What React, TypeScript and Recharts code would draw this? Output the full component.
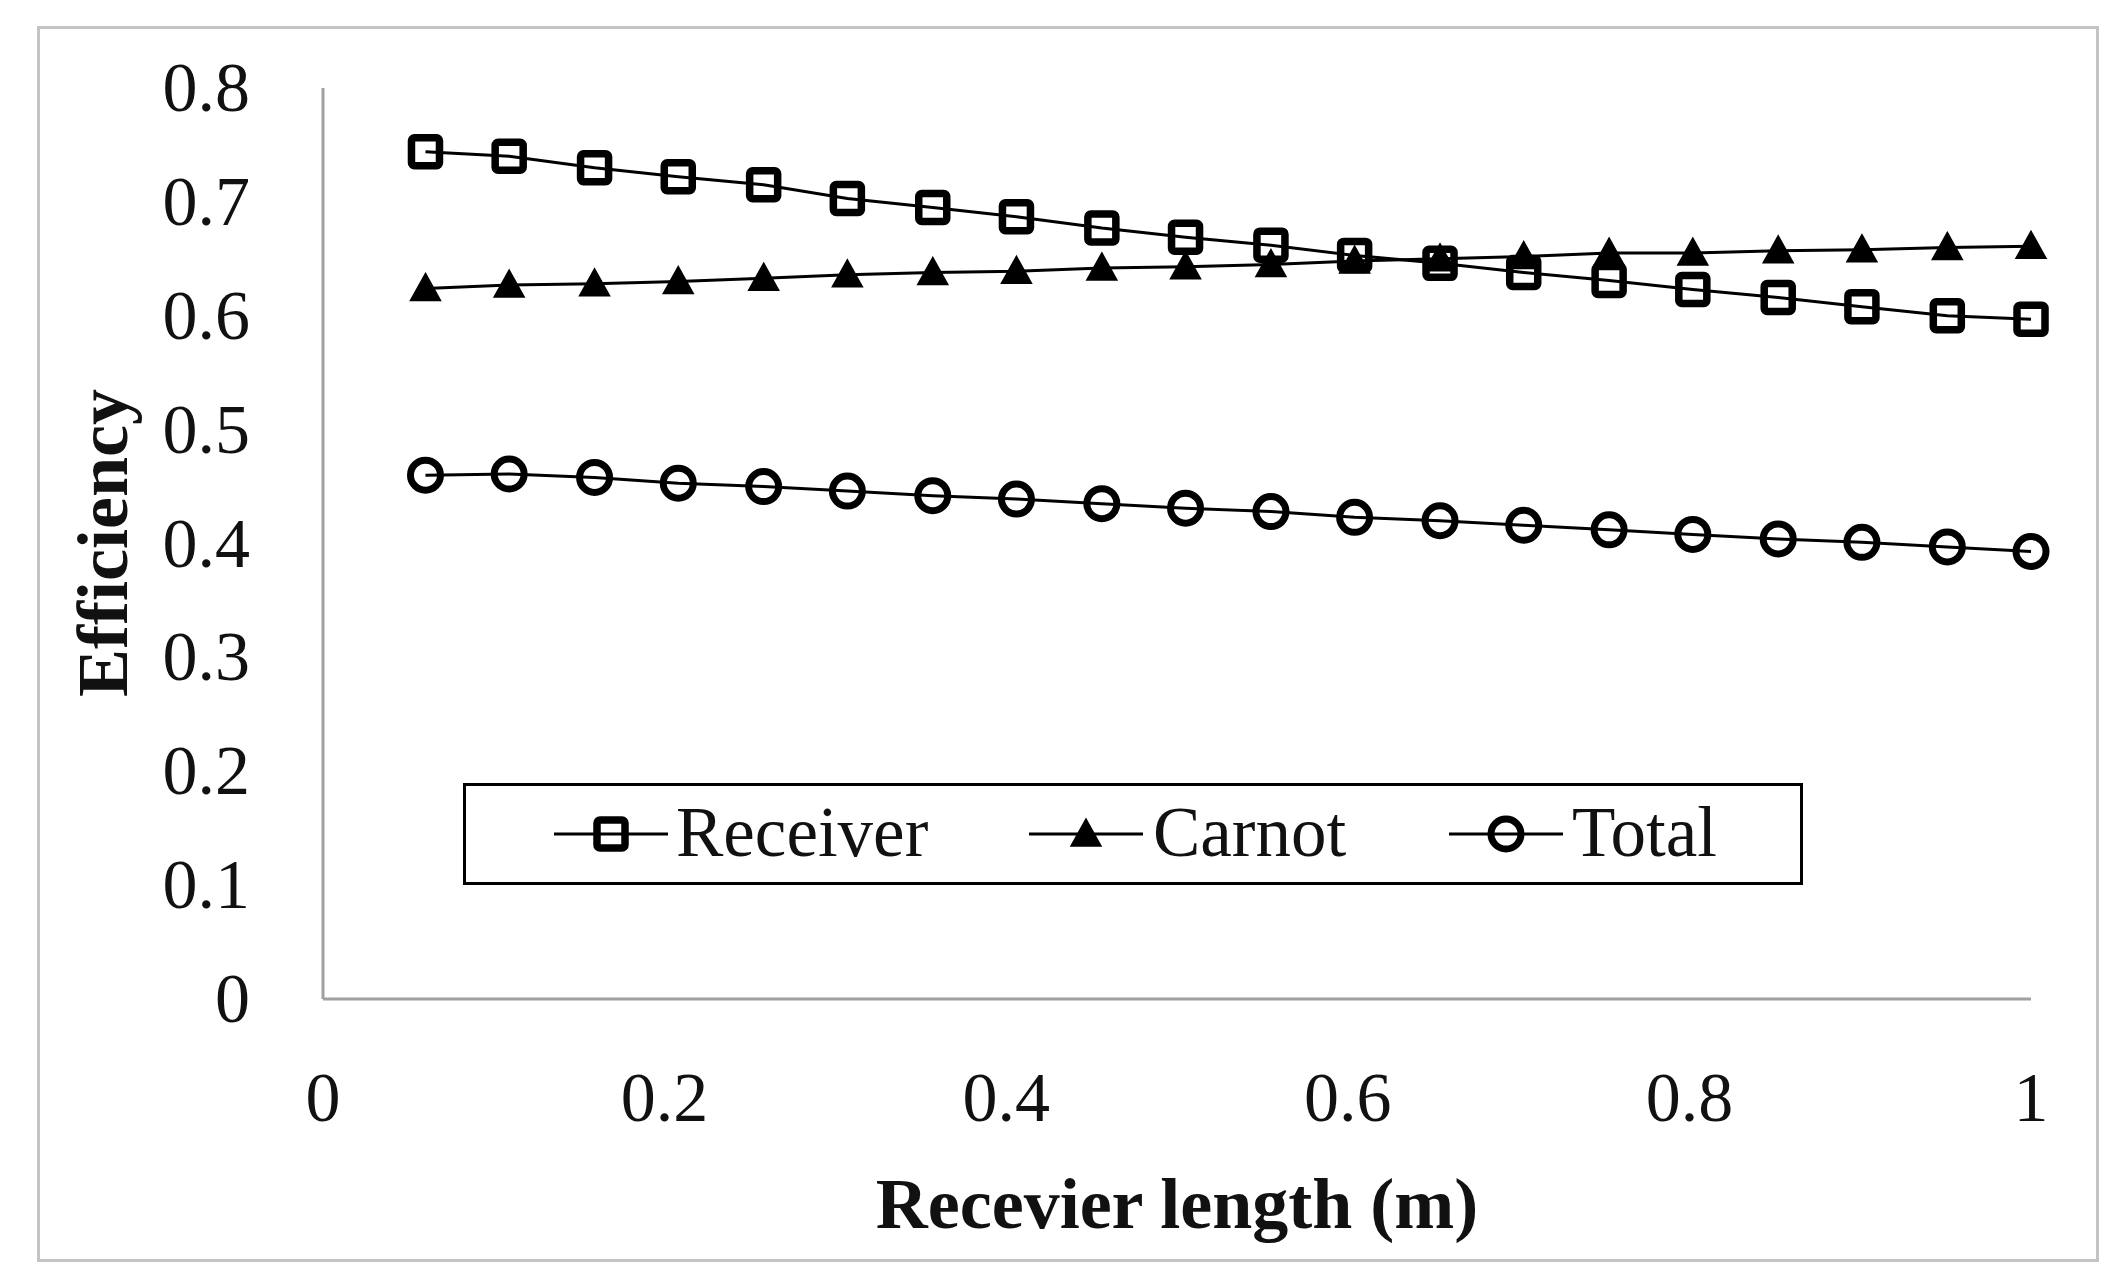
import React from 'react';
import { LineChart, Line, XAxis, YAxis, Legend } from 'recharts';

// ---- data ----
const lengths = [0.06, 0.109, 0.159, 0.208, 0.258, 0.307, 0.357, 0.406, 0.456, 0.505, 0.555, 0.604, 0.654, 0.703, 0.753, 0.802, 0.852, 0.901, 0.951, 1.0];
const receiver = [0.744, 0.74, 0.73, 0.722, 0.715, 0.703, 0.695, 0.687, 0.677, 0.669, 0.662, 0.653, 0.646, 0.638, 0.631, 0.623, 0.616, 0.608, 0.6, 0.597];
const carnot = [0.624, 0.627, 0.628, 0.63, 0.633, 0.636, 0.638, 0.639, 0.642, 0.643, 0.645, 0.648, 0.65, 0.652, 0.655, 0.655, 0.657, 0.658, 0.66, 0.661];
const total = [0.46, 0.461, 0.458, 0.453, 0.45, 0.446, 0.442, 0.439, 0.435, 0.431, 0.428, 0.423, 0.42, 0.416, 0.412, 0.408, 0.404, 0.401, 0.397, 0.393];

const xTicks = [0, 0.2, 0.4, 0.6, 0.8, 1];
const yTicks = [0, 0.1, 0.2, 0.3, 0.4, 0.5, 0.6, 0.7, 0.8];
const xTickLabels = ['0', '0.2', '0.4', '0.6', '0.8', '1'];
const yTickLabels = ['0', '0.1', '0.2', '0.3', '0.4', '0.5', '0.6', '0.7', '0.8'];
const seriesNames = ['Receiver', 'Carnot', 'Total'];
const xTitle = 'Recevier length (m)';
const yTitle = 'Efficiency';

const rows = lengths.map((x, i) => ({ x, receiver: receiver[i], carnot: carnot[i], total: total[i] }));

// ---- layout ----
const W = 2125;
const H = 1284;
const FONT = '"Liberation Serif", "Times New Roman", serif';

const Square = ({ cx, cy }: any) => (
  <rect x={cx - 14} y={cy - 14} width={28} height={28} rx={3} fill="none" stroke="#000" strokeWidth={7.5} />
);
const Circle = ({ cx, cy }: any) => (
  <circle cx={cx} cy={cy} r={15} fill="none" stroke="#000" strokeWidth={7} />
);
const Triangle = ({ cx, cy }: any) => (
  <polygon points={`${cx},${cy - 15} ${cx + 15},${cy + 12} ${cx - 15},${cy + 12}`} fill="#000" stroke="#000" strokeWidth={1.5} />
);

const dotSquare = (p: any) => (p.cx == null ? null : <Square key={`s${p.index}`} cx={p.cx} cy={p.cy} />);
const dotCircle = (p: any) => (p.cx == null ? null : <Circle key={`c${p.index}`} cx={p.cx} cy={p.cy} />);
const dotTriangle = (p: any) => (p.cx == null ? null : <Triangle key={`t${p.index}`} cx={p.cx} cy={p.cy} />);

const renderXTick = (p: any) => {
  const idx = xTicks.indexOf(p.payload.value);
  return (
    <text x={p.x} y={p.y + 122} textAnchor="middle" fontFamily={FONT} fontSize={70} fill="#111">
      {idx >= 0 ? xTickLabels[idx] : String(p.payload.value)}
    </text>
  );
};
const renderYTick = (p: any) => {
  const idx = yTicks.findIndex((t) => Math.abs(t - p.payload.value) < 1e-9);
  return (
    <text x={p.x - 73} y={p.y + 23} textAnchor="end" fontFamily={FONT} fontSize={70} fill="#111">
      {idx >= 0 ? yTickLabels[idx] : String(p.payload.value)}
    </text>
  );
};

const renderXLabel = () => (
  <text x={1177} y={1228} textAnchor="middle" fontFamily={FONT} fontSize={72} fontWeight="bold" fill="#111">
    {xTitle}
  </text>
);
const renderYLabel = () => (
  <text x={127} y={543} transform="rotate(-90 127 543)" textAnchor="middle" fontFamily={FONT} fontSize={72} fontWeight="bold" fill="#111">
    {yTitle}
  </text>
);

const legendLayout = [
  { line: [91, 205], marker: 148, text: 213, kind: 'square' },
  { line: [566, 680], marker: 623, text: 690, kind: 'triangle' },
  { line: [986, 1100], marker: 1043, text: 1109, kind: 'circle' },
];

const LegendBox = () => (
  <svg width={1340} height={102} style={{ display: 'block' }}>
    <rect x={1.5} y={1.5} width={1337} height={99} fill="#fff" stroke="#000" strokeWidth={3} />
    {seriesNames.map((name, i) => {
      const l = legendLayout[i];
      const cy = 51;
      return (
        <g key={name}>
          <line x1={l.line[0]} x2={l.line[1]} y1={cy} y2={cy} stroke="#000" strokeWidth={3} />
          {l.kind === 'square' && <Square cx={l.marker} cy={cy} />}
          {l.kind === 'triangle' && <Triangle cx={l.marker} cy={cy} />}
          {l.kind === 'circle' && <Circle cx={l.marker} cy={cy} />}
          <text x={l.text} y={cy + 22} fontFamily={FONT} fontSize={71} fill="#111">
            {name}
          </text>
        </g>
      );
    })}
  </svg>
);

export default function App() {
  return (
    <div style={{ position: 'absolute', left: 0, top: 0, width: W, height: H, background: '#fff', overflow: 'hidden' }}>
      <div
        style={{
          position: 'absolute',
          left: 37,
          top: 26,
          width: 2062,
          height: 1236,
          border: '3px solid #c4c4c4',
          boxSizing: 'border-box',
        }}
      />
      <div style={{ position: 'absolute', left: 0, top: 0 }}>
        <LineChart width={W} height={H} data={rows} margin={{ top: 88, right: 94, bottom: 85, left: 0 }}>
          <XAxis
            type="number"
            dataKey="x"
            domain={[0, 1]}
            ticks={xTicks}
            height={200}
            tickSize={0}
            tickMargin={0}
            tickLine={false}
            axisLine={{ stroke: '#a0a0a0', strokeWidth: 3 }}
            tick={renderXTick}
            label={renderXLabel}
            interval={0}
          />
          <YAxis
            type="number"
            domain={[0, 0.8]}
            ticks={yTicks}
            width={323}
            tickSize={0}
            tickMargin={0}
            tickLine={false}
            axisLine={{ stroke: '#a0a0a0', strokeWidth: 3 }}
            tick={renderYTick}
            label={renderYLabel}
            interval={0}
          />
          <Legend
            layout="horizontal"
            verticalAlign="middle"
            align="center"
            wrapperStyle={{ left: 463, top: 783, width: 1340, height: 102 }}
            content={() => <LegendBox />}
          />
          <Line dataKey="receiver" name={seriesNames[0]} stroke="#000" strokeWidth={3} dot={dotSquare} isAnimationActive={false} />
          <Line dataKey="carnot" name={seriesNames[1]} stroke="#000" strokeWidth={3} dot={dotTriangle} isAnimationActive={false} />
          <Line dataKey="total" name={seriesNames[2]} stroke="#000" strokeWidth={3} dot={dotCircle} isAnimationActive={false} />
        </LineChart>
      </div>
    </div>
  );
}
